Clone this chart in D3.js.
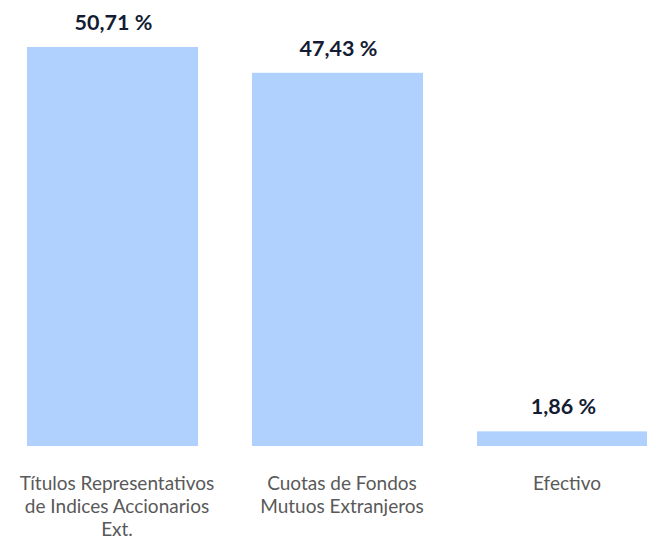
<!DOCTYPE html>
<html>
<head>
<meta charset="utf-8">
<script src="https://cdn.jsdelivr.net/npm/d3@7"></script>
<style>
  body { margin: 0; background: #fff; }
</style>
</head>
<body>
<div id="chart"></div>
<script>
// chart data
const categories = [
  ["Títulos Representativos", "de Indices Accionarios", "Ext."],
  ["Cuotas de Fondos", "Mutuos Extranjeros"],
  ["Efectivo"]
];
const values = [50.71, 47.43, 1.86];
const valueLabels = ["50,71 %", "47,43 %", "1,86 %"];

const width = 647, height = 540;
const baseY = 446, topY = 47;

const svg = d3.select("#chart")
  .append("svg")
  .attr("width", width)
  .attr("height", height);

const x = d3.scaleBand()
  .domain(d3.range(values.length))
  .range([0, 675])
  .paddingInner(0.24)
  .paddingOuter(0.12);

const y = d3.scaleLinear()
  .domain([0, values[0]])
  .range([baseY, topY]);

// bars
svg.selectAll("rect.bar")
  .data(values)
  .enter()
  .append("rect")
  .attr("class", "bar")
  .attr("x", (d, i) => x(i))
  .attr("width", x.bandwidth())
  .attr("y", d => y(d))
  .attr("height", d => baseY - y(d))
  .attr("fill", "#b0d1fd");

// value labels above bars
svg.selectAll("text.val")
  .data(values)
  .enter()
  .append("text")
  .attr("class", "val")
  .attr("x", (d, i) => x(i) + x.bandwidth() / 2 + 1)
  .attr("y", d => y(d) - 17)
  .attr("text-anchor", "middle")
  .style("font-family", "Lato, 'Open Sans', sans-serif")
  .style("font-weight", "bold")
  .style("font-size", "21.5px")
  .style("fill", "#141c33")
  .text((d, i) => valueLabels[i]);

// category labels (multi-line), sit slightly right of bar centre
const cat = svg.selectAll("text.cat")
  .data(categories)
  .enter()
  .append("text")
  .attr("class", "cat")
  .attr("text-anchor", "middle")
  .style("font-family", "Lato, 'Open Sans', sans-serif")
  .style("font-size", "19px")
  .style("fill", "#595959");

cat.selectAll("tspan")
  .data((d, i) => d.map(line => ({ line, i })))
  .enter()
  .append("tspan")
  .attr("x", d => x(d.i) + x.bandwidth() / 2 + 4.5)
  .attr("y", (d, j) => 490 + j * 23)
  .text(d => d.line);
</script>
</body>
</html>
